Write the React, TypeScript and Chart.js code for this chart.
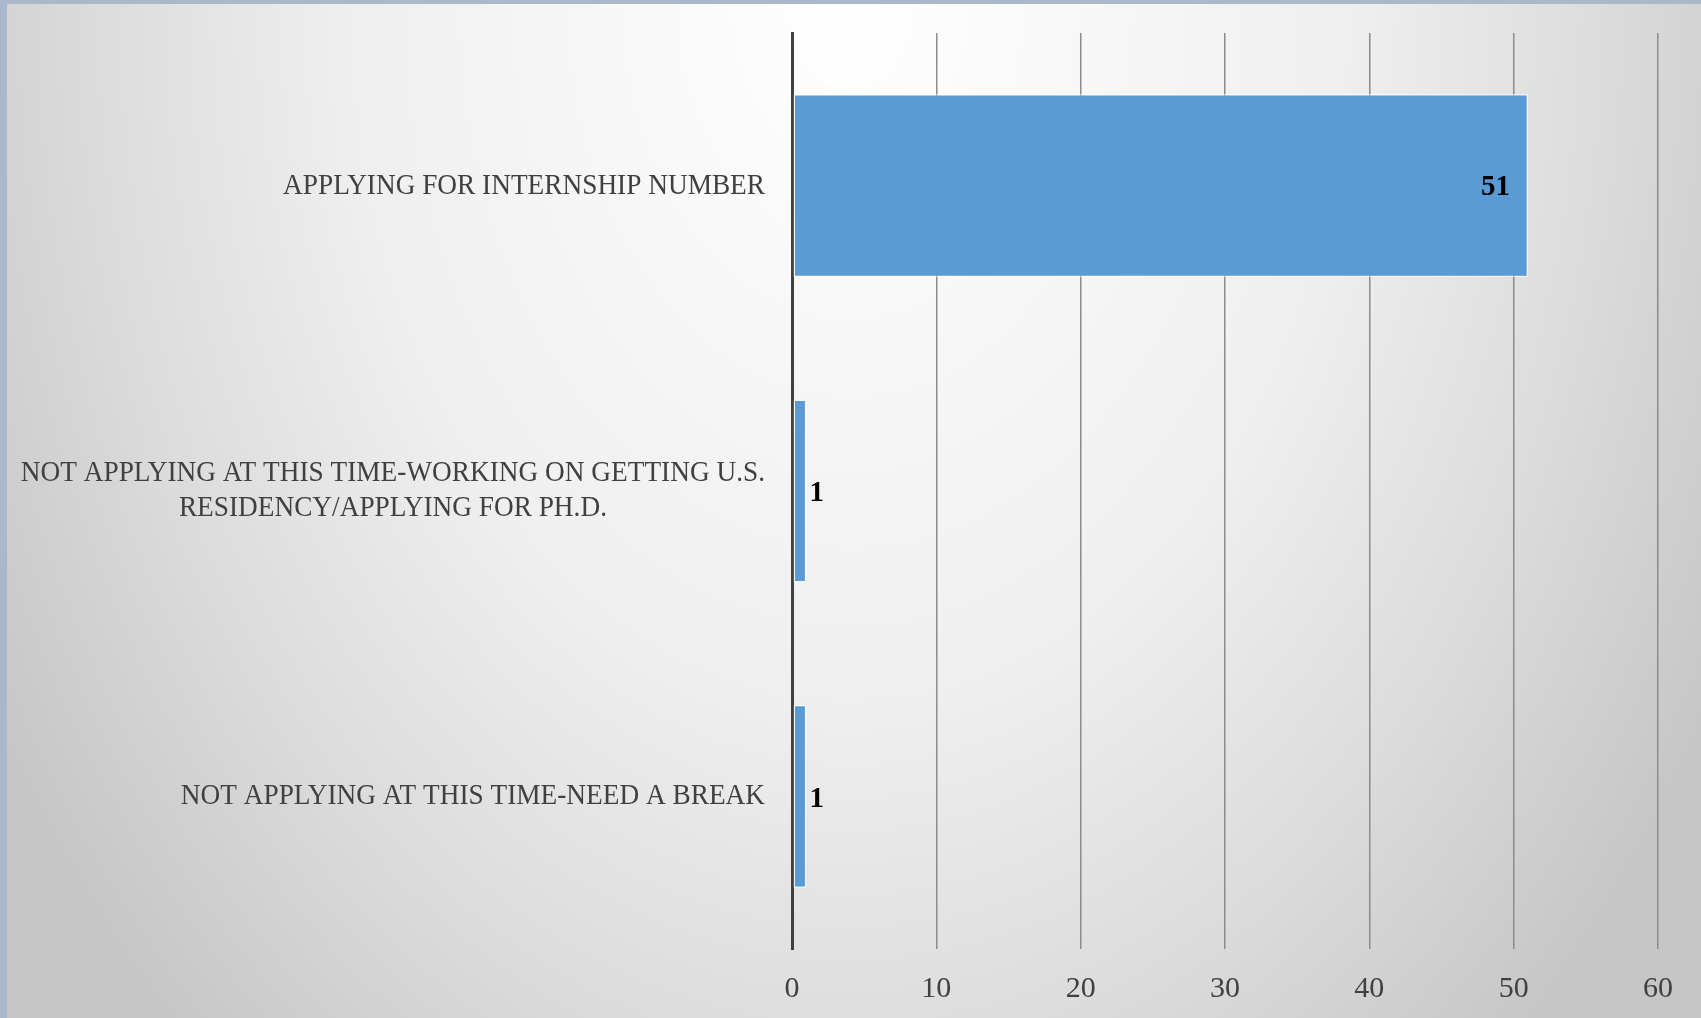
import React, { useEffect, useRef } from "react";
import { Chart, registerables } from "chart.js";

Chart.register(...registerables);

const categories: string[][] = [
  ["APPLYING FOR INTERNSHIP NUMBER"],
  ["NOT APPLYING AT THIS TIME-WORKING ON GETTING U.S.", "RESIDENCY/APPLYING FOR PH.D."],
  ["NOT APPLYING AT THIS TIME-NEED A BREAK"],
];
const values: number[] = [51, 1, 1];
const axisMin = 0;
const axisMax = 60;
const axisStep = 10;

const LABEL_FONT = "30px 'Liberation Serif', 'DejaVu Serif', serif";
const LABEL_SCALE_X = 0.91;
const TEXT_COLOR = "#404040";

const categoryLabelPlugin = {
  id: "categoryLabels",
  afterDraw(chart: any) {
    const ctx = chart.ctx as CanvasRenderingContext2D;
    const yScale = chart.scales.y;
    const rightEdge = chart.chartArea.left - 27;
    const lineH = 35;
    ctx.save();
    ctx.font = LABEL_FONT;
    ctx.fillStyle = TEXT_COLOR;
    ctx.textBaseline = "middle";
    ctx.textAlign = "center";
    categories.forEach((lines, i) => {
      const yc = yScale.getPixelForTick(i);
      const widths = lines.map((l) => ctx.measureText(l).width * LABEL_SCALE_X);
      const maxW = Math.max(...widths);
      const cx = rightEdge - maxW / 2;
      lines.forEach((line, j) => {
        const y = yc + (j - (lines.length - 1) / 2) * lineH;
        ctx.save();
        ctx.translate(cx, y);
        ctx.scale(LABEL_SCALE_X, 1);
        ctx.fillText(line, 0, 0);
        ctx.restore();
      });
    });
    ctx.restore();
  },
};

const dataLabelPlugin = {
  id: "dataLabels",
  afterDatasetsDraw(chart: any) {
    const ctx = chart.ctx as CanvasRenderingContext2D;
    const meta = chart.getDatasetMeta(0);
    ctx.save();
    ctx.font = "bold 29px 'Liberation Serif', 'DejaVu Serif', serif";
    ctx.fillStyle = "#000000";
    ctx.textBaseline = "middle";
    meta.data.forEach((bar: any, i: number) => {
      const v = values[i];
      const txt = String(v);
      const w = ctx.measureText(txt).width;
      const barW = bar.x - bar.base;
      if (barW > w + 40) {
        ctx.textAlign = "right";
        ctx.fillText(txt, bar.x - 18, bar.y + 2);
      } else {
        ctx.textAlign = "left";
        ctx.fillText(txt, bar.x + 3, bar.y + 3);
      }
    });
    ctx.restore();
  },
};

export default function App() {
  const canvasRef = useRef<HTMLCanvasElement | null>(null);

  useEffect(() => {
    if (!canvasRef.current) return;
    const chart = new Chart(canvasRef.current, {
      type: "bar",
      data: {
        labels: categories.map((c) => c.join(" ")),
        datasets: [
          {
            data: values,
            backgroundColor: "#5b9bd5",
            borderColor: "rgba(255,255,255,0.55)",
            borderWidth: 1.5,
            borderSkipped: false,
            barPercentage: 1,
            categoryPercentage: 0.6,
          },
        ],
      },
      options: {
        indexAxis: "y",
        animation: false,
        responsive: false,
        devicePixelRatio: 1,
        layout: { padding: { top: 33, right: 43, left: 0, bottom: 0 } },
        plugins: {
          legend: { display: false },
          tooltip: { enabled: false },
          title: { display: false },
        },
        scales: {
          x: {
            min: axisMin,
            max: axisMax,
            ticks: {
              stepSize: axisStep,
              color: TEXT_COLOR,
              font: { family: "'Liberation Serif', 'DejaVu Serif', serif", size: 30 },
              padding: 22,
            },
            grid: {
              drawTicks: false,
              color: (c: any) => (c.tick && c.tick.value === 0 ? "#404040" : "#8c8c8c"),
              lineWidth: (c: any) => (c.tick && c.tick.value === 0 ? 3 : 1.5),
            },
            border: { display: false },
            afterFit: (scale: any) => {
              scale.height = 69;
            },
          },
          y: {
            ticks: { display: false },
            grid: { display: false, drawTicks: false },
            border: { display: true, color: "#404040", width: 3 },
            afterFit: (scale: any) => {
              scale.width = 792;
            },
          },
        },
      },
      plugins: [dataLabelPlugin, categoryLabelPlugin],
    });
    return () => chart.destroy();
  }, []);

  return (
    <div
      style={{
        position: "fixed",
        left: 0,
        top: 0,
        width: 1701,
        height: 1018,
        background: "#a9b8cc",
        overflow: "hidden",
      }}
    >
      <div
        style={{
          position: "absolute",
          left: 7,
          top: 4,
          right: 0,
          bottom: 0,
          background:
            "radial-gradient(ellipse 1000px 1400px at 843px -4px, #ffffff 0%, #efefef 50%, #dcdcdc 75%, #c6c6c6 100%)",
        }}
      />
      <canvas
        ref={canvasRef}
        width={1701}
        height={1018}
        style={{ position: "absolute", left: 0, top: 0, width: 1701, height: 1018 }}
      />
    </div>
  );
}
